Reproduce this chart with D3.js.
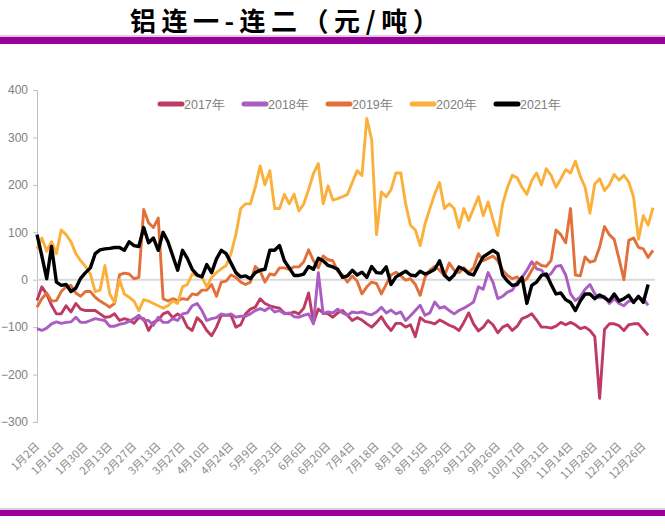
<!DOCTYPE html>
<html>
<head>
<meta charset="utf-8">
<script src="https://d3js.org/d3.v7.min.js"></script>
<style>
  body { margin: 0; background: #fff; }
  svg { display: block; }
</style>
</head>
<body>
<div id="chart"></div>
<script>
// tick labels, one every 5 categories (category = every 2nd trading day)
const tickLabels = ["1月2日","1月16日","1月30日","2月13日","2月27日","3月13日","3月27日","4月10日","4月24日",
  "5月9日","5月23日","6月6日","6月20日","7月4日","7月18日","8月1日","8月15日","8月29日","9月12日",
  "9月26日","10月17日","10月31日","11月14日","11月28日","12月12日","12月26日"];
const categories = d3.range(128);
const years = ["2017年","2018年","2019年","2020年","2021年"];
const colors = ["#bf3a63","#aa5ec2","#e2703a","#fbb03b","#000000"];

const s2017 = [-44,-15,-30,-54,-72,-72,-55,-68,-50,-62,
  -65,-65,-65,-72,-79,-78,-72,-86,-82,-85,
  -92,-80,-82,-107,-90,-85,-72,-68,-80,-72,
  -79,-100,-107,-80,-90,-107,-118,-100,-75,-75,
  -75,-100,-95,-72,-62,-58,-40,-50,-55,-58,
  -60,-70,-72,-68,-72,-60,-28,-90,-62,-70,
  -72,-79,-70,-65,-75,-86,-80,-85,-93,-100,
  -90,-78,-95,-107,-92,-92,-100,-95,-120,-80,
  -88,-90,-93,-85,-90,-96,-100,-107,-90,-70,
  -93,-108,-100,-86,-95,-112,-100,-95,-107,-98,
  -82,-78,-72,-85,-100,-100,-102,-98,-90,-95,
  -90,-95,-103,-100,-107,-120,-250,-105,-93,-93,
  -97,-107,-95,-93,-93,-105,-117];
const s2018 = [-103,-107,-102,-93,-89,-92,-90,-89,-79,-90,
  -90,-86,-82,-84,-86,-98,-98,-94,-92,-88,
  -82,-75,-86,-86,-96,-79,-90,-90,-82,-86,
  -72,-70,-55,-50,-65,-86,-82,-80,-72,-75,
  -72,-79,-77,-77,-72,-65,-61,-65,-58,-68,
  -65,-72,-70,-78,-79,-75,-72,-93,15,-72,
  -68,-70,-62,-70,-75,-68,-70,-68,-72,-74,
  -68,-58,-70,-64,-72,-68,-86,-76,-65,-54,
  -75,-70,-47,-60,-57,-65,-72,-65,-60,-54,
  -47,-15,-20,15,-5,-40,-35,-26,-22,-5,
  5,20,38,23,20,6,13,28,30,10,
  -30,-44,-36,-20,-10,-30,-38,-35,-50,-40,
  -50,-55,-45,-45,-38,-40,-54];
const s2019 = [-58,-40,-28,-45,-44,-25,-15,-12,-28,-35,
  -25,-25,-37,-45,-51,-58,-50,10,14,12,
  2,5,148,120,110,130,-40,-45,-40,-44,
  -40,-42,-30,-32,-22,-22,-10,-35,-5,-3,
  10,5,-5,-10,-5,28,18,-5,12,10,
  25,25,22,27,27,38,63,40,25,50,
  42,40,18,10,-5,8,-3,-30,-15,-5,
  -8,-30,-10,10,16,8,-1,2,-10,-33,
  5,20,28,20,8,35,20,15,25,15,
  25,55,40,45,50,40,20,9,2,6,
  -5,2,20,37,30,28,41,105,95,78,
  150,10,8,48,37,40,69,112,95,85,
  44,0,83,88,68,65,47,62];
const s2020 = [65,88,60,80,55,105,95,80,55,40,
  28,12,-25,-22,30,-30,-48,0,-30,-37,
  -45,-65,-42,-45,-50,-55,-60,-55,-45,-50,
  -15,-10,12,8,6,-15,5,15,23,30,
  55,95,150,160,160,195,240,200,230,150,
  150,180,160,180,145,160,190,224,245,160,
  198,168,171,175,180,205,230,220,340,295,
  95,185,175,190,225,225,160,115,105,72,
  118,150,181,205,150,160,150,110,150,125,
  150,175,135,164,127,93,160,195,220,215,
  195,180,209,225,200,234,220,195,213,232,
  225,250,218,195,140,202,213,188,200,222,
  210,220,206,174,85,135,115,152];
const s2021 = [95,50,2,70,-5,-12,-10,-25,-18,3,
  15,25,55,63,65,66,68,68,62,80,
  72,70,110,78,88,62,100,80,50,20,
  62,45,22,10,6,32,15,44,62,55,
  35,15,6,8,2,15,20,22,62,62,
  72,40,25,9,9,12,28,22,45,40,
  30,27,22,5,8,20,10,16,5,28,
  15,14,27,-10,6,12,18,10,8,18,
  12,16,22,40,10,0,10,27,22,13,
  10,30,48,55,62,55,10,-3,-12,-10,
  5,-50,-12,-5,9,12,-10,-30,-28,-42,
  -48,-65,-45,-30,-30,-40,-32,-38,-45,-30,
  -45,-40,-33,-48,-35,-48,-10];
const yTicks = [400,300,200,100,0,-100,-200,-300];

const series = [s2017, s2018, s2019, s2020, s2021];

const W = 665, H = 532;
const svg = d3.select("#chart").append("svg").attr("width", W).attr("height", H);

// header & footer bars
svg.append("text")
  .attr("x", 130).attr("y", 31)
  .style("font-family", "'Noto Sans CJK SC', sans-serif")
  .style("font-weight", 700)
  .style("font-size", "26px")
  .style("letter-spacing", "5.5px")
  .text("铝连一-连二（元/吨）");
svg.append("rect").attr("x", 0).attr("y", 35).attr("width", W).attr("height", 2).attr("fill", "#dccbdc");
svg.append("rect").attr("x", 0).attr("y", 37).attr("width", W).attr("height", 7).attr("fill", "#990099");
svg.append("rect").attr("x", 0).attr("y", 508).attr("width", W).attr("height", 2).attr("fill", "#dccbdc");
svg.append("rect").attr("x", 0).attr("y", 510).attr("width", W).attr("height", 6).attr("fill", "#990099");

const x = d3.scalePoint().domain(categories).range([37, 653]);
const y = d3.scaleLinear().domain([-300, 400]).range([422, 90]);

// y axis
const yAxis = svg.append("g")
  .attr("transform", "translate(37,0)")
  .call(d3.axisLeft(y).tickValues(yTicks).tickSize(4).tickPadding(5));
yAxis.select(".domain").attr("stroke", "#bfbfbf");
yAxis.selectAll(".tick line").attr("stroke", "#bfbfbf");
yAxis.selectAll("text")
  .attr("fill", "#808080")
  .style("font-family", "'Liberation Sans Narrow', 'Liberation Sans', sans-serif")
  .style("font-size", "12px");

// zero line
svg.append("line")
  .attr("x1", 37).attr("x2", 655)
  .attr("y1", y(0)).attr("y2", y(0))
  .attr("stroke", "#d9d9d9").attr("stroke-width", 2);

// x labels
svg.append("g").selectAll("text")
  .data(tickLabels)
  .join("text")
  .attr("transform", (d, i) => `translate(${x(i * 5) + 3},${447}) rotate(-45)`)
  .attr("text-anchor", "end")
  .attr("fill", "#8a8a8a")
  .style("font-family", "'Noto Sans CJK SC', sans-serif")
  .style("font-size", "11px")
  .text(d => d);

// lines
const line = d3.line()
  .x((d, i) => x(i))
  .y(d => y(d));

svg.append("g").selectAll("path")
  .data(series)
  .join("path")
  .attr("d", d => line(d))
  .attr("fill", "none")
  .attr("stroke", (d, i) => colors[i])
  .attr("stroke-width", (d, i) => i === 4 ? 3.4 : 2.9)
  .attr("stroke-linejoin", "round");

// legend
const legend = svg.append("g").selectAll("g")
  .data(years)
  .join("g")
  .attr("transform", (d, i) => `translate(${158 + i * 84},104)`);
legend.append("line")
  .attr("x1", 2).attr("x2", 24)
  .attr("stroke", (d, i) => colors[i])
  .attr("stroke-width", 5)
  .attr("stroke-linecap", "round");
legend.append("text")
  .attr("x", 26).attr("y", 4.5)
  .attr("fill", "#808080")
  .style("font-family", "'Liberation Sans Narrow', 'Liberation Sans', sans-serif")
  .style("font-size", "12.5px")
  .text(d => d);
</script>
</body>
</html>
